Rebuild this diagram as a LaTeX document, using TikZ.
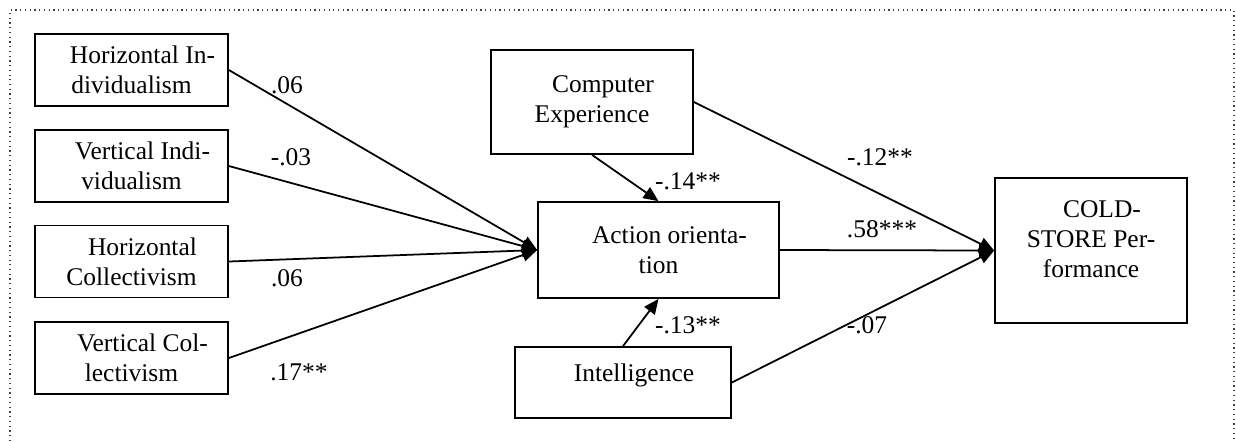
\documentclass[tikz,border=0pt]{standalone}
\usepackage{fontspec}
\setmainfont{Liberation Serif}
\usetikzlibrary{arrows.meta}
\newcommand{\firstindent}{\hspace*{12.5pt}}
\tikzset{
	var/.style={draw, line width=1pt, align=center, inner sep=2pt, font=\fontsize{14.5}{17.2}\selectfont},
	effect/.style={line width=1pt, -{Triangle[length=0.3cm, width=0.26cm]}},
	coef/.style={inner sep=0pt, font=\fontsize{14.5}{17.2}\selectfont},
}

\begin{document}
\begin{tikzpicture}[x=0.02cm, y=-0.02cm]
			%%%%% START %%%%%
			\useasboundingbox (0,0) rectangle (1236,441);
			\draw[dotted, line width=0.7pt, color=black!75] (10,441) -- (10,10) -- (1234,10) -- (1234,441);
			
			\node[var, minimum width=3.86cm, minimum height=1.44cm] (hi) at (131.5,70) {\firstindent Horizontal In-\\dividualism};
			\node[var, minimum width=3.86cm, minimum height=1.44cm] (vi) at (131.5,166) {\firstindent Vertical Indi-\\vidualism};
			\node[var, minimum width=3.86cm, minimum height=1.44cm] (hc) at (131.5,261.5) {\firstindent Horizontal\\Collectivism};
			\node[var, minimum width=3.86cm, minimum height=1.44cm] (vc) at (131.5,358) {\firstindent Vertical Col-\\lectivism};
			
			\node[var, minimum width=4.04cm, minimum height=2.08cm] (ce) at (592,102) {\firstindent Computer\\Experience};
			\node[var, minimum width=4.82cm, minimum height=1.92cm] (ao) at (658.5,250) {\firstindent Action orienta-\\tion};
			\node[var, minimum width=4.32cm, minimum height=1.42cm, text depth=11pt] (int) at (623,382.5) {\firstindent Intelligence};
			
			\node[var, minimum width=3.84cm, minimum height=2.9cm, text depth=13pt] (cold) at (1091,250.5) {\firstindent COLD-\\STORE Per-\\formance};
			
			\draw[effect] (hi.east) -- (ao.west);
			\draw[effect] (vi.east) -- (ao.west);
			\draw[effect] (hc.east) -- (ao.west);
			\draw[effect] (vc.east) -- (ao.west);
			\draw[effect] (ce.south) -- (ao.north);
			\draw[effect] (int.north) -- (ao.south);
			\draw[effect] (ce.east) -- (cold.west);
			\draw[effect] (ao.east) -- (cold.west);
			\draw[effect] (int.east) -- (cold.west);
			
			\node[coef] (bhi) at (287,85) {.06};
			\node[coef] (bvi) at (291,157) {-.03};
			\node[coef] (bhc) at (287,278) {.06};
			\node[coef] (bvc) at (299,372) {.17**};
			\node[coef] (bce) at (688,181) {-.14**};
			\node[coef] (bint) at (688,325) {-.13**};
			\node[coef] (bcecold) at (880,157) {-.12**};
			\node[coef] (baocold) at (882,229) {.58***};
			\node[coef] (bintcold) at (867,325) {-.07};
			%%%%% END %%%%%
\end{tikzpicture}
\end{document}
